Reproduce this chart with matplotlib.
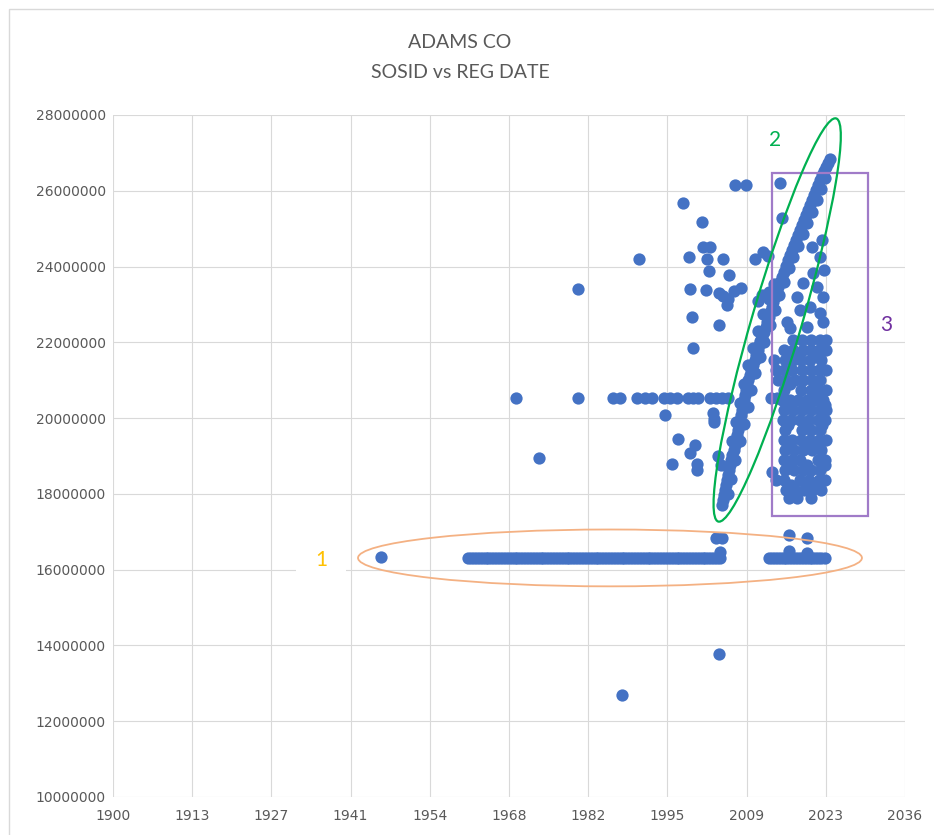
import numpy as np
import matplotlib.pyplot as plt
from matplotlib.patches import Ellipse, Rectangle
from matplotlib.transforms import Affine2D

# registration date (decimal year) / SOSID (millions)

# the long flat run at ~16.3M (left part 1961-2005, right part 2013-2023)
flat_left_x = [1961.4, 1961.9, 1962.4, 1962.9, 1963.4, 1963.9, 1964.4, 1964.9, 1965.4, 1965.9,
               1966.4, 1966.9, 1967.4, 1967.9, 1968.4, 1968.9, 1969.4, 1969.9, 1970.4, 1970.9,
               1971.4, 1971.9, 1972.4, 1972.9, 1973.4, 1973.9, 1974.4, 1974.9, 1975.4, 1975.9,
               1976.4, 1976.9, 1977.4, 1977.9, 1978.4, 1978.9, 1979.4, 1979.9, 1980.4, 1980.9,
               1981.4, 1981.9, 1982.4, 1982.9, 1983.4, 1983.9, 1984.4, 1984.9, 1985.4, 1985.9,
               1986.4, 1986.9, 1987.4, 1987.9, 1988.4, 1988.9, 1989.4, 1989.9, 1990.4, 1990.9,
               1991.4, 1991.9, 1992.4, 1992.9, 1993.4, 1993.9, 1994.4, 1994.9, 1995.4, 1995.9,
               1996.4, 1996.9, 1997.4, 1997.9, 1998.4, 1998.9, 1999.4, 1999.9, 2000.4, 2000.9,
               2001.4, 2001.9, 2002.4, 2002.9, 2003.4, 2003.9, 2004.4, 2004.9]
flat_right_x = [2013.4, 2013.9, 2014.4, 2014.9, 2015.4, 2015.9, 2016.4, 2016.9, 2017.4, 2017.9,
                2018.4, 2018.9, 2019.4, 2019.9, 2020.4, 2020.9, 2021.4, 2021.9, 2022.4, 2023.1]
flat_sosid = 16.32

# points just off the flat run
near_flat_x = [1946.3, 2004.9, 2004.2, 2005.3, 2016.8, 2020.0, 2016.8, 2020.0]
near_flat_y = [16.33, 16.47, 16.84, 16.84, 16.48, 16.44, 16.92, 16.84]

# the row at ~20.5M
row_x = [1969.7, 1980.4, 1986.4, 1987.6, 1990.6, 1992.0, 1993.2, 1995.2, 1996.3, 1997.5,
         1999.4, 2000.3, 2001.1, 2003.2, 2004.2, 2005.3, 2006.3, 2013.7, 2014.8, 2015.8]
row_sosid = 20.53

# the rising diagonal band
band_x = [2005.26, 2005.43, 2005.61, 2005.78, 2005.95, 2006.12, 2006.30, 2006.47, 2006.64, 2006.82,
          2006.99, 2007.25, 2007.51, 2007.68, 2007.85, 2008.03, 2008.20, 2008.37, 2008.54, 2008.71,
          2008.89, 2009.06, 2009.24, 2009.41, 2009.58, 2009.84, 2010.10, 2010.36, 2010.62, 2010.88,
          2011.14, 2011.40, 2011.65, 2011.91, 2012.17, 2012.51, 2012.86, 2013.12, 2013.38, 2013.64,
          2013.90, 2014.16, 2014.42, 2014.68, 2014.94, 2015.28, 2015.63, 2015.97, 2016.32, 2016.66,
          2017.01, 2017.35, 2017.70, 2018.05, 2018.40, 2018.74, 2019.09, 2019.43, 2019.78, 2020.12,
          2020.47, 2020.81, 2021.16, 2021.50, 2021.85, 2022.19, 2022.54, 2022.88, 2023.23, 2023.58,
          2023.93,
          2006.3, 2006.8, 2007.5, 2008.3, 2009.0, 2009.7, 2010.3, 2011.0, 2011.8, 2012.6,
          2013.5, 2014.4, 2015.2, 2016.0, 2016.8, 2017.6, 2018.4, 2019.2, 2020.0, 2020.8,
          2021.6, 2022.4, 2023.1,
          2007.0, 2007.6, 2008.3, 2009.0, 2009.8, 2010.6, 2011.5, 2012.4, 2013.3, 2014.2]
band_y = [17.71, 17.84, 17.97, 18.10, 18.23, 18.36, 18.50, 18.63, 18.76, 18.90,
          19.03, 19.16, 19.29, 19.42, 19.55, 19.68, 19.82, 19.95, 20.08, 20.21,
          20.35, 20.48, 20.61, 20.74, 20.87, 21.00, 21.14, 21.27, 21.40, 21.53,
          21.67, 21.80, 21.93, 22.03, 22.14, 22.27, 22.40, 22.53, 22.67, 22.80,
          22.93, 23.06, 23.20, 23.33, 23.46, 23.59, 23.72, 23.86, 24.01, 24.16,
          24.31, 24.44, 24.57, 24.70, 24.83, 24.96, 25.10, 25.23, 25.36, 25.49,
          25.62, 25.75, 25.89, 26.02, 26.15, 26.28, 26.42, 26.52, 26.63, 26.73,
          26.84,
          18.00, 18.40, 18.90, 19.40, 19.85, 20.30, 20.75, 21.20, 21.60, 22.00,
          22.45, 22.85, 23.25, 23.60, 23.95, 24.25, 24.55, 24.85, 25.15, 25.45,
          25.75, 26.05, 26.35,
          19.40, 19.90, 20.40, 20.90, 21.40, 21.85, 22.30, 22.75, 23.15, 23.55]

# the dense block 2014-2023 (rows of SOSID, dates in each row)
block_rows = [
    (24.70, [2022.6]),
    (24.52, [2020.8]),
    (24.25, [2022.2]),
    (23.90, [2022.9]),
    (23.83, [2021.0]),
    (23.57, [2019.3]),
    (23.46, [2021.7]),
    (23.20, [2018.2, 2022.7]),
    (22.93, [2020.5]),
    (22.85, [2018.7]),
    (22.77, [2022.2]),
    (22.54, [2016.5, 2022.7]),
    (22.40, [2019.9]),
    (22.06, [2017.6, 2019.1, 2020.6, 2022.2, 2023.3]),
    (21.80, [2016.0, 2017.5, 2019.2, 2020.7, 2022.0, 2023.2]),
    (21.67, [2016.8, 2018.3, 2021.4]),
    (21.53, [2014.2, 2016.2, 2017.6, 2019.0, 2020.5, 2022.3]),
    (21.27, [2014.6, 2016.0, 2017.4, 2019.1, 2020.6, 2022.1, 2023.3]),
    (21.01, [2015.0, 2016.3, 2017.8, 2019.3, 2020.8, 2022.2]),
    (20.90, [2017.0, 2021.5]),
    (20.74, [2016.0, 2019.0, 2020.6, 2022.0, 2023.2]),
    (20.48, [2015.6, 2017.0, 2018.4, 2019.9, 2021.4, 2022.8]),
    (20.35, [2016.8, 2020.2, 2023.0]),
    (20.21, [2016.0, 2017.5, 2019.1, 2020.6, 2022.2, 2023.3]),
    (19.95, [2015.8, 2017.2, 2018.8, 2020.3, 2021.8, 2023.0]),
    (19.82, [2016.6, 2019.6, 2022.6]),
    (19.69, [2016.1, 2019.1, 2020.6, 2022.2]),
    (19.42, [2015.9, 2017.4, 2018.9, 2020.5, 2022.0, 2023.2]),
    (19.29, [2016.9, 2019.9, 2021.5]),
    (19.16, [2016.2, 2017.7, 2019.2, 2020.8, 2022.3]),
    (18.89, [2015.9, 2017.3, 2018.8, 2021.9, 2023.1]),
    (18.76, [2016.9, 2020.0, 2023.0]),
    (18.63, [2016.1, 2017.7, 2019.3, 2020.7, 2022.2]),
    (18.37, [2016.0, 2018.8, 2020.3, 2022.0, 2023.0]),
    (18.24, [2017.2, 2019.9, 2021.6]),
    (18.10, [2016.4, 2017.9, 2019.4, 2020.9, 2022.3]),
    (17.89, [2016.8, 2018.2, 2020.6]),
]

# scattered points
other_x = [1988.0, 2004.7, 1973.6, 1980.4, 1990.9, 2007.5, 2009.4, 1998.5, 2001.8,
           2002.0, 2003.2, 1999.6, 2002.7, 2005.4, 2003.0, 2006.5, 1999.7, 2002.5,
           2004.7, 2005.4, 2006.3, 2007.3, 2008.5, 2006.1, 2000.1, 2004.7, 2000.2,
           1995.4, 2003.7, 2003.9, 2003.9, 1997.7, 2000.6, 1999.7, 1996.6, 2000.9,
           2004.6, 2000.9, 2005.1, 2011.0, 2012.3, 2013.2, 2012.2, 2013.4, 2011.5,
           2015.3, 2015.6, 2017.0, 2013.9, 2014.6]
other_y = [12.69, 13.77, 18.95, 23.41, 24.20, 26.15, 26.15, 25.68, 25.18,
           24.52, 24.52, 24.25, 24.20, 24.20, 23.88, 23.78, 23.41, 23.38,
           23.30, 23.22, 23.14, 23.36, 23.43, 22.99, 22.67, 22.46, 21.85,
           20.08, 20.13, 19.98, 19.90, 19.45, 19.29, 19.08, 18.79, 18.79,
           19.00, 18.63, 18.76, 24.20, 24.38, 24.28, 23.25, 23.33, 23.09,
           26.21, 25.28, 22.38, 18.58, 18.37]

x_tick_labels = ['1900', '1913', '1927', '1941', '1954', '1968', '1982', '1995', '2009', '2023', '2036']

W, H = 934, 835
GRAY = '#595959'

flat_x = flat_left_x + flat_right_x
block_x = [x for v, xs in block_rows for x in xs]
block_y = [v for v, xs in block_rows for x in xs]

xs = np.concatenate([flat_x, near_flat_x, row_x, band_x, block_x, other_x])
ys = np.concatenate([np.full(len(flat_x), flat_sosid), near_flat_y,
                     np.full(len(row_x), row_sosid), band_y, block_y, other_y]) * 1e6

fig = plt.figure(figsize=(W / 100, H / 100), dpi=100)
ax = fig.add_axes([113 / W, 1 - 797 / H, (905 - 113) / W, (797 - 115) / H])

ax.scatter(xs, ys, s=78, color='#4472C4', linewidths=0, zorder=3)

# excel date axis: ticks every 5000 days from 1900
x_ticks = [1900 + k * 5000 / 365.25 for k in range(len(x_tick_labels))]
ax.set_xlim(x_ticks[0], x_ticks[-1])
ax.set_ylim(10e6, 28e6)
ax.set_xticks(x_ticks)
ax.set_xticklabels(x_tick_labels)
y_ticks = np.arange(10e6, 28e6 + 1, 2e6)
ax.set_yticks(y_ticks)
ax.set_yticklabels([str(int(v)) for v in y_ticks])
ax.tick_params(length=0, labelsize=10, labelcolor=GRAY)
ax.tick_params(axis='y', pad=5)
ax.tick_params(axis='x', pad=9)
ax.grid(True, color='#d9d9d9', lw=0.8)
ax.set_axisbelow(True)
for s in ax.spines.values():
    s.set_visible(False)

fig.text(460 / W, 1 - 43 / H, 'ADAMS CO', ha='center', va='center', fontsize=14, color=GRAY, family='Lato')
fig.text(460 / W, 1 - 73 / H, 'SOSID vs REG DATE', ha='center', va='center', fontsize=14, color=GRAY, family='Lato')

# hand-drawn callouts
ax.add_patch(Ellipse((1985.9, 16.31e6), 87.1, 1.5e6, fill=False, ec='#F4B183', lw=1.3, zorder=4))
ax.add_patch(Rectangle((2013.9, 17.42e6), 16.6, 9.05e6, fill=False, ec='#A07BC8', lw=1.6, zorder=4, clip_on=False))
cx, cy = ax.transData.transform((2014.8, 22.59e6))
fig.add_artist(Ellipse((0, 0), 420, 50, angle=73.7, fill=False, ec='#00B050', lw=1.6,
                       transform=Affine2D().translate(cx, cy), zorder=4))

ax.text(1935.95, 16.26e6, '1', color='#FFC000', fontsize=15, ha='center', va='center', family='Lato',
        bbox=dict(boxstyle='square,pad=0.9', fc='white', ec='none'), zorder=2)
ax.text(2014.4, 27.34e6, '2', color='#00B050', fontsize=15, ha='center', va='center', family='Lato', zorder=5)
ax.text(2033.6, 22.46e6, '3', color='#7030A0', fontsize=15, ha='center', va='center', family='Lato',
        clip_on=False, zorder=5)

# chart area border
fig.add_artist(Rectangle((9 / W, -0.1), 1.2, 1.1 - 9 / H, transform=fig.transFigure,
                         fill=False, ec='#d9d9d9', lw=1))

fig.savefig('out.png', dpi=100)
